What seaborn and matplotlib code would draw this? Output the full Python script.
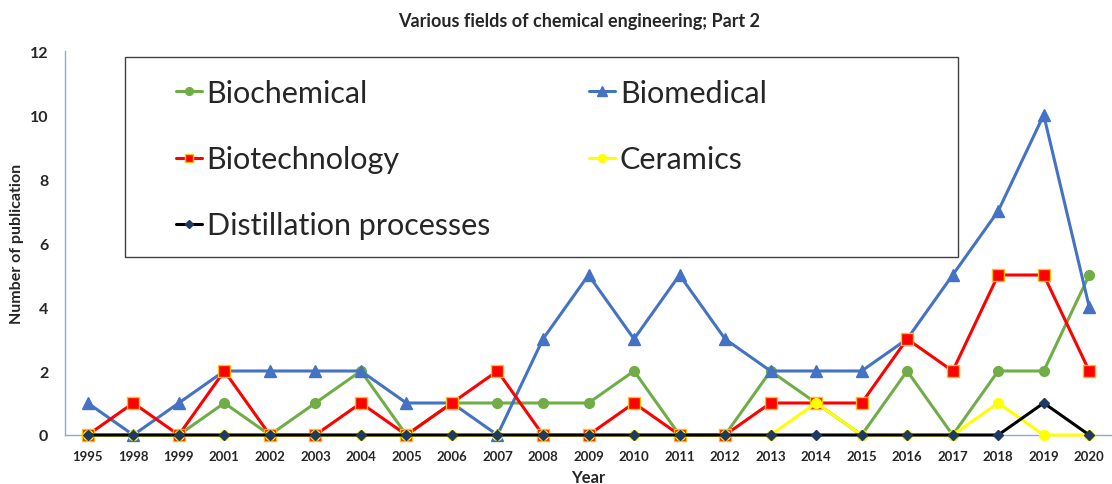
import matplotlib
matplotlib.use("Agg")
import matplotlib.pyplot as plt
import matplotlib.patches as mpatches
import seaborn as sns
import numpy as np

years = ["1995", "1998", "1999", "2001", "2002", "2003", "2004", "2005", "2006",
         "2007", "2008", "2009", "2010", "2011", "2012", "2013", "2014", "2015",
         "2016", "2017", "2018", "2019", "2020"]

biochemical = [0, 0, 0, 1, 0, 1, 2, 0, 1, 1, 1, 1, 2, 0, 0, 2, 1, 0, 2, 0, 2, 2, 5]
biomedical = [1, 0, 1, 2, 2, 2, 2, 1, 1, 0, 3, 5, 3, 5, 3, 2, 2, 2, 3, 5, 7, 10, 4]
biotechnology = [0, 1, 0, 2, 0, 0, 1, 0, 1, 2, 0, 0, 1, 0, 0, 1, 1, 1, 3, 2, 5, 5, 2]
ceramics = [0, 0, 0, 0, 0, 0, 0, 0, 0, 0, 0, 0, 0, 0, 0, 0, 1, 0, 0, 0, 1, 0, 0]
distillation = [0, 0, 0, 0, 0, 0, 0, 0, 0, 0, 0, 0, 0, 0, 0, 0, 0, 0, 0, 0, 0, 1, 0]

sns.set_style("white")
plt.rcParams['font.family'] = ['Lato', 'DejaVu Sans']

fig = plt.figure(figsize=(11.12, 4.85), dpi=100)
ax = fig.add_axes([65 / 1112, 1 - 436 / 485, (1112 - 65) / 1112, (436 - 52) / 485])

x = np.arange(len(years))

# name, values, line colour, marker, marker face, marker edge, size
series = [
    ("Biochemical", biochemical, "#70AD47", "o", "#70AD47", "#70AD47", 7),
    ("Biomedical", biomedical, "#4472C4", "^", "#4472C4", "#4472C4", 8.5),
    ("Biotechnology", biotechnology, "#FF0000", "s", "#FF0000", "#FFC000", 8),
    ("Ceramics", ceramics, "#FFFF00", "o", "#FFFF00", "#FFFF00", 7),
    ("Distillation processes", distillation, "#000000", "D", "#203864", "#203864", 5.5),
]

for i, (name, vals, col, mk, mfc, mec, ms) in enumerate(series):
    sns.lineplot(x=x, y=vals, ax=ax, color=col, marker=mk, markersize=ms,
                 markerfacecolor=mfc, markeredgecolor=mec, markeredgewidth=1,
                 linewidth=2.2, label=name, zorder=3 + i, clip_on=False)

h, l = ax.get_legend_handles_labels()
ax.get_legend().remove()

ax.set_xlim(-0.5, -0.5 + (1112 - 65) / 45.9)
ax.set_ylim(0, 12)
ax.set_yticks(range(0, 13, 2))
ax.set_xticks(x)
ax.set_xticklabels(years)
ax.set_xticks(np.arange(-0.5, len(years), 1), minor=True)
ax.tick_params(axis="x", which="major", length=0, labelsize=9.5, pad=11)
ax.tick_params(axis="x", which="minor", length=4, color="#8EA9DB", direction="out")
ax.tick_params(axis="y", length=0, labelsize=11.5, pad=12)
for lab in ax.get_xticklabels() + ax.get_yticklabels():
    lab.set_fontweight("bold")

for s in ["top", "right"]:
    ax.spines[s].set_visible(False)
for s in ["left", "bottom"]:
    ax.spines[s].set_color("#8EA9DB")
    ax.spines[s].set_linewidth(1)

ax.set_xlabel("Year", fontsize=12, fontweight="bold", labelpad=5)
ax.set_ylabel("Number of publication", fontsize=11.5, fontweight="bold", labelpad=4)
fig.text(0.521, 1 - 22 / 485, "Various fields of chemical engineering; Part 2",
         ha="center", va="center", fontsize=13, fontweight="bold")

# legend frame drawn separately, legend itself frameless
frame = mpatches.Rectangle((125 / 1112, 1 - 258 / 485), 833 / 1112, 200 / 485,
                           transform=fig.transFigure, facecolor="white",
                           edgecolor="#404040", linewidth=1, zorder=9)
fig.patches.append(frame)

order = [0, 2, 4, 1, 3]
leg = fig.legend([h[k] for k in order], [l[k] for k in order], ncol=2,
                 loc="upper left", bbox_to_anchor=(176 / 1112, 1 - 80 / 485),
                 fontsize=22, frameon=False, handlelength=0.85,
                 handletextpad=0.15, labelspacing=1.25, borderpad=0, borderaxespad=0,
                 columnspacing=3.25, markerscale=0.8)
leg.set_zorder(10)

fig.savefig("out.png", dpi=100)
